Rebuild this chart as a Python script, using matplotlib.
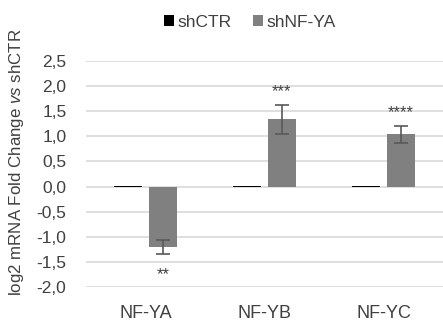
import numpy as np
import matplotlib
matplotlib.use("Agg")
import matplotlib.pyplot as plt

# ----------------------------
# data
# ----------------------------
genes = ["NF-YA", "NF-YB", "NF-YC"]
sh_ctr = [0.02, 0.02, 0.02]
sh_nfya = [-1.20, 1.34, 1.04]
sh_nfya_err = [0.14, 0.29, 0.17]
stars = ["**", "***", "****"]
y_ticks = [-2.0, -1.5, -1.0, -0.5, 0.0, 0.5, 1.0, 1.5, 2.0, 2.5]

# ----------------------------
# style
# ----------------------------
plt.rcParams["font.family"] = ["Liberation Sans", "DejaVu Sans"]
plt.rcParams["mathtext.fontset"] = "custom"
plt.rcParams["mathtext.rm"] = "Liberation Sans"
plt.rcParams["mathtext.it"] = "Liberation Sans:italic"

text_col = "#404040"
grid_col = "#d9d9d9"
ctr_col = "#000000"
nfya_col = "#808080"
err_col = "#595959"

fig = plt.figure(figsize=(4.43, 3.21), dpi=100)
ax = fig.add_axes([0.194, 0.106, 0.806, 0.704])

x = np.arange(len(genes))
w = 0.235
off = 0.146

ax.bar(x - off, sh_ctr, w, color=ctr_col, label="shCTR", zorder=3)
ax.bar(x + off, sh_nfya, w, color=nfya_col, label="shNF-YA", zorder=3)
ax.errorbar(x + off, sh_nfya, yerr=sh_nfya_err, fmt="none", ecolor=err_col,
            elinewidth=1.2, capsize=5, capthick=1.2, zorder=4)

# significance stars
for i, s in enumerate(stars):
    v = sh_nfya[i]
    e = sh_nfya_err[i]
    if v < 0:
        ypos = v - e - 0.42
    else:
        ypos = v + e + 0.26
    ax.text(x[i] + off, ypos, s, ha="center", va="center",
            fontsize=12, color=text_col)

ax.set_xlim(-0.5, 2.5)
ax.set_ylim(-2.0, 2.5)
ax.set_yticks(y_ticks)
ax.set_yticklabels([f"{t:.1f}".replace(".", ",") for t in y_ticks])
ax.set_xticks(x)
ax.set_xticklabels(genes)
ax.tick_params(axis="y", length=0, pad=14, labelsize=12.5, labelcolor=text_col)
ax.tick_params(axis="x", length=0, pad=13, labelsize=13, labelcolor=text_col)
ax.yaxis.grid(True, color=grid_col, linewidth=1.2, zorder=0)
ax.set_axisbelow(True)
for sp in ax.spines.values():
    sp.set_visible(False)

fig.text(0.038, 0.495, r"log2 mRNA Fold Change $\it{vs}$ shCTR", rotation=90,
         ha="center", va="center", fontsize=12.2, color=text_col)

fig.legend(loc="center", bbox_to_anchor=(0.564, 0.93), ncol=2, frameon=False,
           fontsize=12.5, handlelength=0.6, handleheight=0.6,
           handletextpad=0.2, columnspacing=1.2, labelcolor=text_col)

fig.savefig("out.png", dpi=100)
